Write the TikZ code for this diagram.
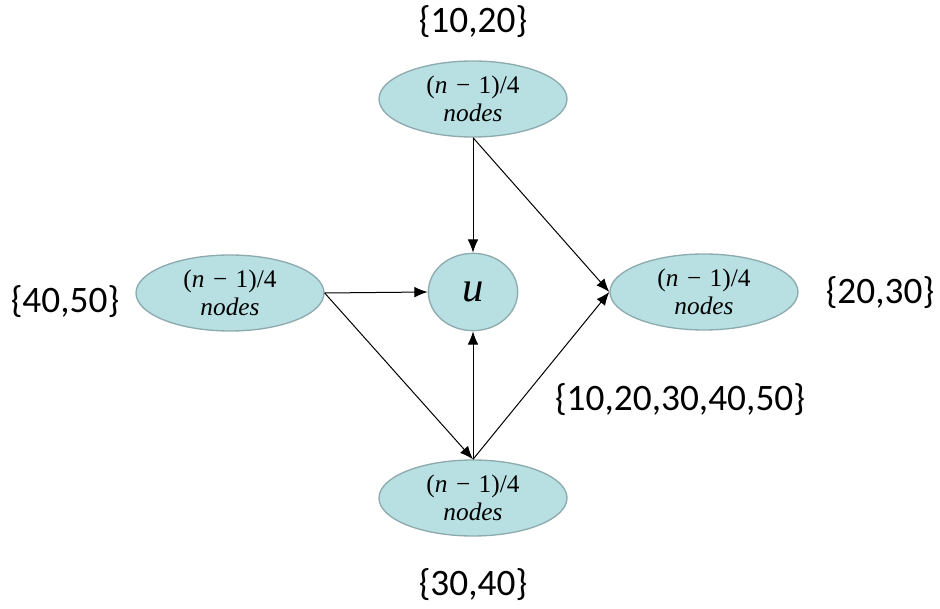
\documentclass[tikz,border=0pt]{standalone}
\usepackage{fontspec}
\setmainfont{Carlito}
\newfontfamily\serifm{Liberation Serif}
\usetikzlibrary{shapes.geometric,arrows.meta}
\definecolor{nodefill}{HTML}{B8DFE2}
\definecolor{nodeline}{HTML}{8DABAE}
\newcommand{\grptext}{{\serifm(\textit{n}\,\,−\,\,1)/4}\\ {\serifm\itshape nodes}}
\begin{document}
\begin{tikzpicture}[x=0.75pt,y=-0.75pt,
  grp/.style={ellipse,draw=nodeline,fill=nodefill,line width=1pt,inner sep=0pt,
    minimum width=141pt,minimum height=57pt,align=center,
    font=\fontsize{19}{21}\selectfont},
  unode/.style={ellipse,draw=nodeline,fill=nodefill,line width=1pt,inner sep=0pt,
    minimum width=67pt,minimum height=58pt,font=\fontsize{32}{34}\selectfont},
  lbl/.style={font=\fontsize{28}{32}\selectfont,inner sep=0pt},
  arr/.style={-{Latex[length=10pt,width=8pt]},line width=0.75pt,black}]
\useasboundingbox (0,0) rectangle (940,609);
\node[grp] (top) at (473,99) {\grptext};
\node[grp] (left) at (230,293) {\grptext};
\node[grp] (right) at (704,292) {\grptext};
\node[grp] (bot) at (473,498) {\grptext};
\node[unode] (u) at (473,292) {\serifm\itshape u};
\node[lbl] (ltop) at (473,22) {\{10,20\}};
\node[lbl] (lleft) at (65,302) {\{40,50\}};
\node[lbl] (lright) at (880,293) {\{20,30\}};
\node[lbl] (lall) at (680,400) {\{10,20,30,40,50\}};
\node[lbl] (lbot) at (473,585) {\{30,40\}};
\draw[arr] (top.south) -- (u.north);
\draw[arr] (top.south) -- (right.west);
\draw[arr] (left.east) -- (u.west);
\draw[arr] (left.east) -- (bot.north);
\draw[arr] (bot.north) -- (u.south);
\draw[arr] (bot.north) -- (right.west);
\end{tikzpicture}
\end{document}
